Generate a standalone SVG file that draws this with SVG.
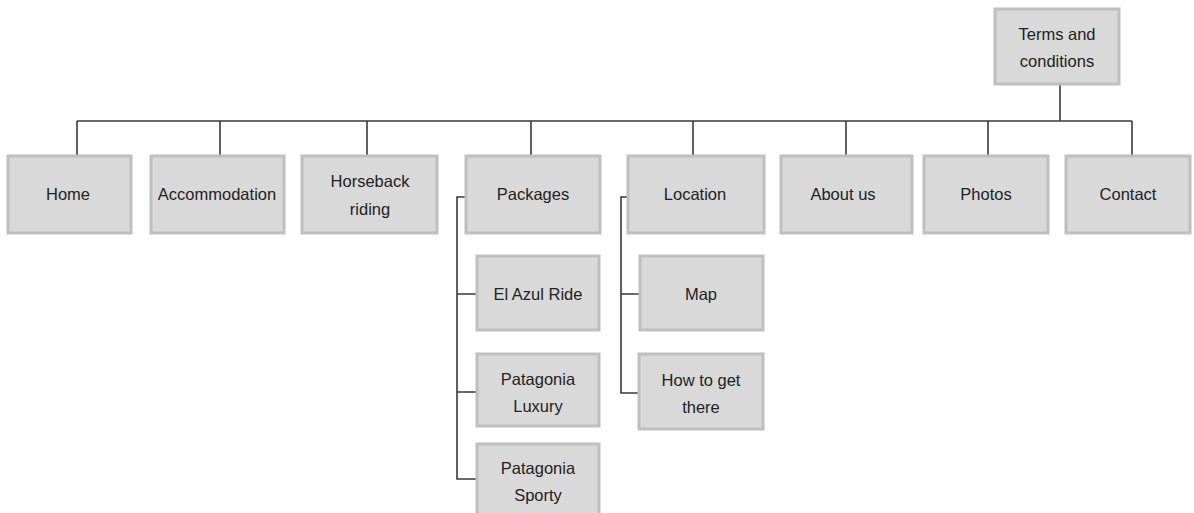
<svg xmlns="http://www.w3.org/2000/svg" width="1194" height="513" viewBox="0 0 1194 513">
<style>
.box{fill:#d9d9d9;stroke:#bfbfbf;stroke-width:3}
.t{font-family:"Liberation Sans",Arial,sans-serif;font-size:16.5px;fill:#222;text-anchor:middle}
.c{fill:none;stroke:#3a3a3a;stroke-width:1.6}
</style>
<rect width="1194" height="513" fill="#fff"/>
<g id="connectors">
<path class="c" d="M1060 84V121M77 121H1132M77 121V156M220 121V156M367 121V156M531 121V156M693 121V156M846 121V156M988 121V156M1132 121V156"/>
<path class="c" d="M466 197H457V479H477M457 294H477M457 392H477"/>
<path class="c" d="M628 197H621V393H639M621 294H639"/>
</g>
<g id="terms"><rect class="box" x="995" y="9" width="124" height="75"/><text class="t" x="1057" y="40">Terms and</text><text class="t" x="1057" y="67">conditions</text></g>
<g id="home"><rect class="box" x="8" y="156" width="123" height="77"/><text class="t" x="68" y="200">Home</text></g>
<g id="accommodation"><rect class="box" x="151" y="156" width="133" height="77"/><text class="t" x="217" y="200">Accommodation</text></g>
<g id="horseback"><rect class="box" x="302" y="156" width="135" height="77"/><text class="t" x="370" y="187">Horseback</text><text class="t" x="370" y="215">riding</text></g>
<g id="packages"><rect class="box" x="466" y="156" width="134" height="77"/><text class="t" x="533" y="200">Packages</text></g>
<g id="location"><rect class="box" x="628" y="156" width="136" height="77"/><text class="t" x="695" y="200">Location</text></g>
<g id="about"><rect class="box" x="781" y="156" width="131" height="77"/><text class="t" x="843" y="200">About us</text></g>
<g id="photos"><rect class="box" x="924" y="156" width="124" height="77"/><text class="t" x="986" y="200">Photos</text></g>
<g id="contact"><rect class="box" x="1066" y="156" width="124" height="77"/><text class="t" x="1128" y="200">Contact</text></g>
<g id="elazul"><rect class="box" x="477" y="256" width="122" height="74"/><text class="t" x="538" y="300">El Azul Ride</text></g>
<g id="luxury"><rect class="box" x="477" y="354" width="122" height="72"/><text class="t" x="538" y="385">Patagonia</text><text class="t" x="538" y="412">Luxury</text></g>
<g id="sporty"><rect class="box" x="477" y="444" width="122" height="75"/><text class="t" x="538" y="474">Patagonia</text><text class="t" x="538" y="501">Sporty</text></g>
<g id="map"><rect class="box" x="640" y="256" width="123" height="74"/><text class="t" x="701" y="300">Map</text></g>
<g id="howto"><rect class="box" x="639" y="354" width="124" height="75"/><text class="t" x="701" y="386">How to get</text><text class="t" x="701" y="413">there</text></g>
</svg>
